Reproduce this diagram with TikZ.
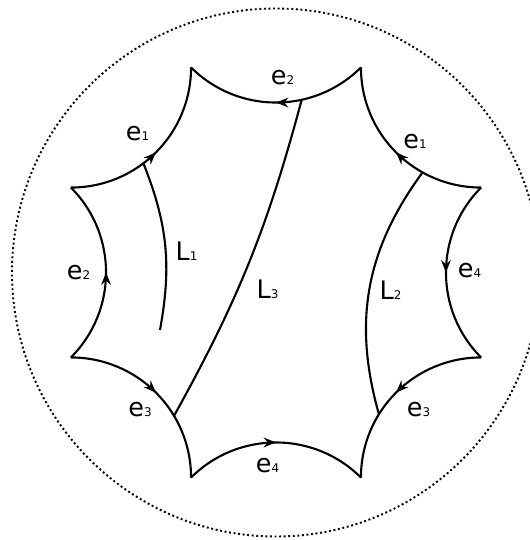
\documentclass[tikz,border=0pt]{standalone}
\usepackage{fontspec}
\setmainfont{DejaVu Sans}
\usepackage{tikz}
\usetikzlibrary{arrows.meta,decorations.markings}

\newcommand{\lab}[2]{#1{\fontsize{6.8}{8}\selectfont #2}}

\begin{document}
\begin{tikzpicture}[font=\fontsize{14.5}{16}\selectfont,
    side/.style={line width=1.2pt, postaction={decorate},
      decoration={markings, mark=at position 0.5 with {\arrow{Stealth[length=7pt,width=5.5pt]}}}},
    geo/.style={line width=1.2pt}]
  \useasboundingbox (-5.52,-5.35) rectangle (5.06,5.45);
  \draw[line width=1.1pt, dash pattern=on 1.1pt off 1.5pt] (0,0) circle (5.28);

  % octagon corners
  \foreach \k in {1,...,8}
    \coordinate (v\k) at ({45*\k-22.5}:4.44);

  \draw[side] (v1) to[bend left=45]  coordinate[pos=0.32] (l2top) (v2);
  \draw[side] (v2) to[bend left=45]  coordinate[pos=0.36] (l3top) (v3);
  \draw[side] (v4) to[bend right=45] coordinate[pos=0.41] (l1top) (v3);
  \draw[side] (v5) to[bend right=45] (v4);
  \draw[side] (v5) to[bend left=45]  coordinate[pos=0.66] (l3bot) (v6);
  \draw[side] (v6) to[bend left=45]  (v7);
  \draw[side] (v8) to[bend right=45] coordinate[pos=0.65] (l2bot) (v7);
  \draw[side] (v1) to[bend right=45] (v8);

  \foreach \nm/\x/\y/\l/\d in {e2t/0.13/3.89/e/2, e1l/-2.77/2.77/e/1, e2l/-3.95/0/e/2,
      e3l/-2.72/-2.75/e/3, e4b/-0.17/-3.86/e/4, e3r/2.85/-2.75/e/3,
      e4r/3.87/0.03/e/4, e1r/2.78/2.62/e/1}
    \node (\nm) at (\x,\y) {\lab{\l}{\d}};

  % loops
  \coordinate (l1end) at (-2.32,-1.15);
  \draw[geo] (l1top) to[bend left=16] (l1end);
  \draw[geo] (l3top) to[bend left=7] (l3bot);
  \draw[geo] (l2top) to[bend right=26] (l2bot);

  \node (L1) at (-1.79,0.43) {\lab{L}{1}};
  \node (L3) at (-0.17,-0.33) {\lab{L}{3}};
  \node (L2) at (2.29,-0.35) {\lab{L}{2}};
\end{tikzpicture}
\end{document}
